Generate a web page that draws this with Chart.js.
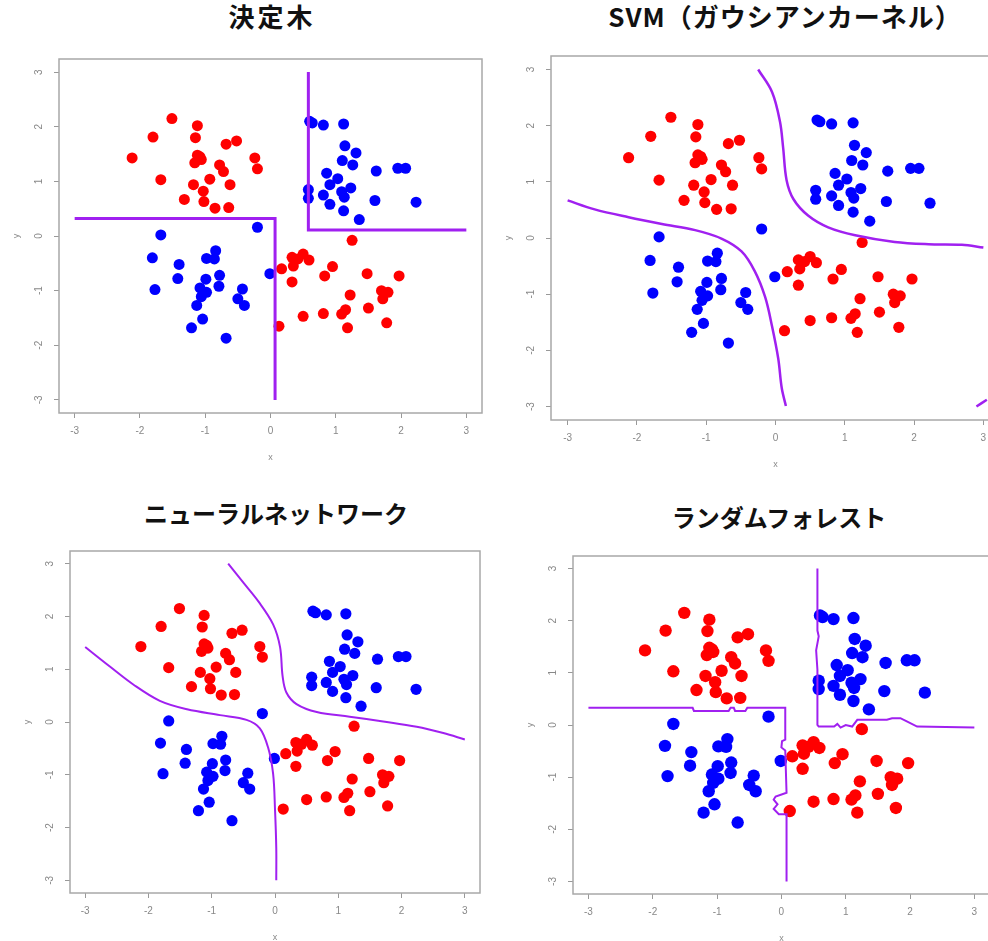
<!DOCTYPE html>
<html>
<head>
<meta charset="utf-8">
<script src="https://cdn.jsdelivr.net/npm/chart.js@4.4.1/dist/chart.umd.min.js"></script>
<style>
  html, body { margin: 0; padding: 0; overflow: hidden; background: #fff; }
  body { width: 988px; height: 941px; position: relative; }
  canvas { position: absolute; }
  .title {
    position: absolute;
    transform: translateX(-50%);
    white-space: nowrap;
    font-family: "Noto Sans CJK JP", sans-serif;
    font-weight: bold;
    line-height: 1;
    color: #111;
  }
</style>
</head>
<body>
<div class="title" style="left:272px;top:3px;font-size:26px;letter-spacing:3px">決定木</div>
<div class="title" style="left:785px;top:3px;font-size:26px;letter-spacing:1px">SVM（ガウシアンカーネル）</div>
<div class="title" style="left:276px;top:501px;font-size:24px">ニューラルネットワーク</div>
<div class="title" style="left:779px;top:505px;font-size:24px">ランダムフォレスト</div>
<canvas id="c1"></canvas>
<canvas id="c2"></canvas>
<canvas id="c3"></canvas>
<canvas id="c4"></canvas>
<script>
// tick labels shared by every panel
const tickValues = [-3, -2, -1, 0, 1, 2, 3];

// the same points in all four panels
const redX = [-2.12, -1.80, -1.51, -1.68, -1.32, -1.12, -1.15, -1.12, -1.08, -1.16, -1.06, -1.18,
  -1.03, -1.02, -0.93, -0.85, -0.78, -0.72, -0.68, -0.52, -0.62, -0.64, -0.24, -0.20,
  1.25, 0.17, 0.33, 0.35, 0.50, 0.59, 0.42, 0.33, 0.83, 0.95, 1.48, 1.97, 1.22, 1.70,
  1.80, 1.72, 1.50, 0.50, 0.81, 1.09, 1.15, 1.18, 1.78, 0.13];
const redY = [1.43, 1.81, 2.15, 1.03, 0.67, 2.02, 1.80, 1.48, 1.45, 1.34, 1.40, 0.94,
  0.82, 0.63, 1.04, 0.51, 1.30, 1.18, 1.68, 1.74, 0.94, 0.52, 1.43, 1.23,
  -0.08, -0.60, -0.39, -0.55, -0.33, -0.44, -0.42, -0.84, -0.73, -0.56, -0.69, -0.73, -1.08, -1.00,
  -1.03, -1.15, -1.32, -1.47, -1.42, -1.43, -1.35, -1.68, -1.59, -1.65];
const blueX = [0.60, 0.64, 0.81, 1.12, 1.14, 1.31, 1.10, 1.26, 1.62, 1.95, 2.07, 0.86, 1.03,
  0.91, 0.58, 0.58, 0.81, 0.91, 1.09, 1.13, 1.23, 1.12, 1.36, 1.60, 2.23,
  -1.68, -0.20, -1.81, -1.40, -1.42, -1.77, -0.84, -0.98, -0.86, -0.78, -0.99, -1.08,
  -0.98, -1.06, -0.79, -0.43, -0.50, -0.40, -1.13, -1.04, -1.21, -0.68, -0.01];
const blueY = [2.10, 2.07, 2.03, 2.05, 1.65, 1.52, 1.38, 1.30, 1.19, 1.24, 1.24, 1.15, 1.05,
  0.94, 0.85, 0.69, 0.75, 0.58, 0.81, 0.71, 0.88, 0.46, 0.30, 0.65, 0.62,
  0.02, 0.16, -0.40, -0.52, -0.78, -0.98, -0.27, -0.41, -0.42, -0.72, -0.79, -0.95,
  -1.03, -1.11, -0.92, -0.97, -1.15, -1.27, -1.27, -1.52, -1.68, -1.87, -0.69];

// decision tree boundary
const treeLeftX = [-3, 0.07, 0.07];
const treeLeftY = [0.32, 0.32, -3];
const treeRightX = [0.58, 0.58, 3];
const treeRightY = [3, 0.11, 0.11];

// SVM (gaussian kernel) boundary
const svmUpperX = [-0.25, -0.05, 0.065, 0.11, 0.16, 0.26, 0.47, 0.76, 1.15, 1.72, 2.21, 2.69, 3.0];
const svmUpperY = [3.0, 2.60, 2.07, 1.61, 1.03, 0.69, 0.40, 0.19, 0.05, -0.07, -0.11, -0.12, -0.17];
const svmLowerX = [-3.0, -2.61, -2.12, -1.64, -1.16, -0.78, -0.49, -0.30, -0.15, -0.05, 0.04, 0.09, 0.15];
const svmLowerY = [0.67, 0.51, 0.37, 0.25, 0.14, -0.01, -0.24, -0.59, -1.05, -1.57, -2.15, -2.67, -2.99];
const svmCornerX = [2.9, 3.05];
const svmCornerY = [-3.0, -2.88];

// neural network boundary
const nnUpperX = [-0.74, -0.50, -0.26, -0.03, 0.08, 0.12, 0.18, 0.34, 0.66, 1.18, 1.71, 2.24, 2.66, 3.0];
const nnUpperY = [3.0, 2.64, 2.28, 1.85, 1.42, 0.87, 0.56, 0.34, 0.19, 0.10, 0.01, -0.09, -0.21, -0.33];
const nnLowerX = [-3.0, -2.61, -2.24, -1.82, -1.39, -0.87, -0.45, -0.24, -0.11, -0.03, 0.0, 0.02, 0.02];
const nnLowerY = [1.42, 1.05, 0.71, 0.40, 0.24, 0.13, 0.04, -0.12, -0.48, -0.98, -1.65, -2.39, -3.0];

// random forest boundary
const rfLeftX = [-3.0, -1.38, -1.36, -0.82, -0.79, -0.74, -0.72, -0.56, -0.53, 0.06, 0.06, 0.01, 0.0,
  0.06, 0.08, -0.09, -0.12, -0.06, -0.12, -0.04, 0.08, 0.08];
const rfLeftY = [0.33, 0.33, 0.27, 0.27, 0.33, 0.33, 0.27, 0.27, 0.33, 0.33, -0.28, -0.31, -0.43,
  -0.49, -1.30, -1.37, -1.43, -1.52, -1.61, -1.71, -1.71, -3.0];
const rfRightX = [0.56, 0.56, 0.58, 0.54, 0.56, 0.56, 0.58, 0.82, 0.87, 0.92, 1.0, 1.1, 1.18,
  1.64, 1.72, 1.85, 1.95, 2.11, 3.0];
const rfRightY = [3.0, 1.81, 1.70, 1.43, 1.06, 0.0, -0.03, -0.03, 0.02, -0.05, 0.0, -0.03, 0.10,
  0.10, 0.13, 0.13, 0.07, -0.03, -0.05];

function pts(xs, ys) {
  return xs.map((x, i) => ({ x: x, y: ys[i] }));
}

// draws the closed frame round the plot region
const frame = {
  id: 'frame',
  afterDatasetsDraw(c) {
    const a = c.chartArea;
    const ctx = c.ctx;
    ctx.save();
    ctx.strokeStyle = '#a8a8a8';
    ctx.lineWidth = 1.5;
    ctx.strokeRect(a.left, a.top, a.right - a.left, a.bottom - a.top);
    ctx.restore();
  }
};

function axis(isX) {
  return {
    type: 'linear',
    min: -3.24,
    max: 3.24,
    afterBuildTicks: (s) => { s.ticks = tickValues.map((v) => ({ value: v })); },
    afterFit: (s) => { if (isX) s.height = 62; else s.width = 62; },
    border: { display: false },
    grid: { drawOnChartArea: false, drawTicks: true, tickLength: 5, color: '#999' },
    ticks: isX
      ? { color: '#888', font: { size: 10, family: 'Liberation Sans' }, padding: 7, maxRotation: 0 }
      : { color: '#888', font: { size: 10, family: 'Liberation Sans' }, padding: 10,
          minRotation: 90, maxRotation: 90, crossAlign: 'center' },
    title: {
      display: true,
      text: isX ? 'x' : 'y',
      color: '#888',
      font: { size: 9, family: 'Liberation Sans' },
      padding: isX ? { top: 0, bottom: 12 } : { top: 14, bottom: 0 }
    }
  };
}

function panel(id, box, lines, lineWidth, radius, tension) {
  const cv = document.getElementById(id);
  const L = 62, B = 62, T = 6, R = 6;
  cv.style.left = (box[0] - L) + 'px';
  cv.style.top = (box[1] - T) + 'px';
  cv.width = Math.round(box[2] - box[0] + L + R);
  cv.height = Math.round(box[3] - box[1] + T + B);

  const lineSets = lines.map((l) => ({
    data: pts(l[0], l[1]),
    showLine: true,
    pointRadius: 0,
    borderColor: '#a020f0',
    borderWidth: lineWidth,
    tension: tension
  }));

  new Chart(cv, {
    type: 'scatter',
    data: {
      datasets: lineSets.concat([
        { data: pts(redX, redY), backgroundColor: '#ff0000', borderWidth: 0, pointRadius: radius },
        { data: pts(blueX, blueY), backgroundColor: '#0000ff', borderWidth: 0, pointRadius: radius }
      ])
    },
    options: {
      responsive: false,
      animation: false,
      layout: { padding: { top: T, right: R, left: 0, bottom: 0 } },
      plugins: { legend: { display: false }, tooltip: { enabled: false } },
      scales: { x: axis(true), y: axis(false) }
    },
    plugins: [frame]
  });
}

panel('c1', [59, 49, 482, 413],
  [[treeLeftX, treeLeftY], [treeRightX, treeRightY]], 3, 5.5, 0);
panel('c2', [551, 46, 1000, 419.5],
  [[svmUpperX, svmUpperY], [svmLowerX, svmLowerY], [svmCornerX, svmCornerY]], 2.5, 5.6, 0.35);
panel('c3', [70, 541, 480, 893],
  [[nnUpperX, nnUpperY], [nnLowerX, nnLowerY]], 2, 5.6, 0.35);
panel('c4', [572.5, 546, 989.5, 894],
  [[rfLeftX, rfLeftY], [rfRightX, rfRightY]], 2, 6.2, 0);
</script>
</body>
</html>
